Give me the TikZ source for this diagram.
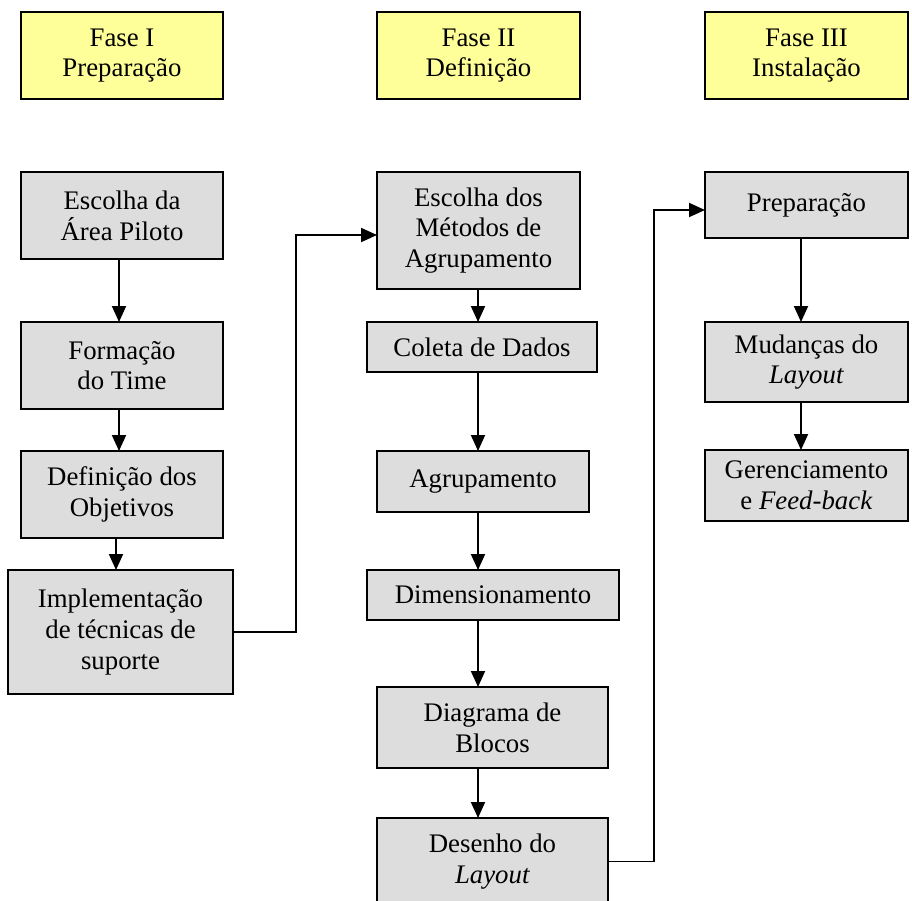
\documentclass[tikz,border=0pt]{standalone}
\usepackage{fontspec}
\setmainfont{Liberation Serif}
\usetikzlibrary{arrows.meta,calc}
\definecolor{phaseyellow}{HTML}{FFFF99}
\definecolor{stepgray}{HTML}{DDDDDD}
\begin{document}
\begin{tikzpicture}[x=1pt,y=-1pt,
  basebox/.style={draw=black, line width=2pt, inner sep=0pt, outer sep=0pt,
    align=center, font=\fontsize{26.8}{30.7}\selectfont},
  phasebox/.style={basebox, fill=phaseyellow},
  stepbox/.style={basebox, fill=stepgray},
  arr/.style={line width=1.9pt, -{Triangle[length=16pt,width=14pt]}}]
\useasboundingbox (0,0) rectangle (912,900);

% phase headers
\node[phasebox, minimum width=202pt, minimum height=87pt] (f1) at (122,55.5) {Fase I\\Preparação};
\node[phasebox, minimum width=203pt, minimum height=87pt] (f2) at (478.5,55.5) {Fase II\\Definição};
\node[phasebox, minimum width=203pt, minimum height=87pt] (f3) at (806.5,55.5) {Fase III\\Instalação};

% phase I steps
\node[stepbox, minimum width=202pt, minimum height=87pt] (a1) at (122,215.5) {Escolha da\\Área Piloto};
\node[stepbox, minimum width=202pt, minimum height=87pt] (a2) at (122,365.5) {Formação\\do Time};
\node[stepbox, minimum width=202pt, minimum height=87pt] (a3) at (122,494.5) {Definição dos\\Objetivos};
\node[stepbox, minimum width=225pt, minimum height=124pt] (a4) at (120.5,632) {Implementação\\de técnicas de\\suporte};

% phase II steps
\node[stepbox, minimum width=203pt, minimum height=117pt] (b1) at (478.5,230.5) {Escolha dos\\Métodos de\\Agrupamento};
\node[stepbox, minimum width=230pt, minimum height=50pt] (b2) at (482,347) {Coleta de Dados};
\node[stepbox, minimum width=212pt, minimum height=61pt] (b3) at (483,481.5) {Agrupamento};
\node[stepbox, minimum width=252pt, minimum height=50pt] (b4) at (493,595) {Dimensionamento};
\node[stepbox, minimum width=231pt, minimum height=81pt] (b5) at (492.5,727.5) {Diagrama de\\Blocos};
\node[stepbox, minimum width=231pt, minimum height=87pt] (b6) at (492.5,861.5) {Desenho do\\\textit{Layout}};

% phase III steps
\node[stepbox, minimum width=203pt, minimum height=66pt] (c1) at (806.5,205) {Preparação};
\node[stepbox, minimum width=203pt, minimum height=80pt] (c2) at (806.5,362) {Mudanças do\\\textit{Layout}};
\node[stepbox, minimum width=203pt, minimum height=71pt] (c3) at (806.5,485.5) {Gerenciamento\\e \textit{Feed-back}};

% vertical guides for the connectors
\coordinate (xa) at (119,0);
\coordinate (xa2) at (116,0);
\coordinate (xb) at (478,0);
\coordinate (xc) at (801,0);
\coordinate (j1) at (296,0);
\coordinate (j2) at (654,0);
\coordinate (b1in) at ([yshift=-4.5pt]b1.west);
\coordinate (c1in) at ([yshift=-5pt]c1.west);

% phase I flow
\draw[arr] (a1.south -| xa) -- (a2.north -| xa);
\draw[arr] (a2.south -| xa) -- (a3.north -| xa);
\draw[arr] (a3.south -| xa2) -- (a4.north -| xa2);

% phase II flow
\draw[arr] (b1.south -| xb) -- (b2.north -| xb);
\draw[arr] (b2.south -| xb) -- (b3.north -| xb);
\draw[arr] (b3.south -| xb) -- (b4.north -| xb);
\draw[arr] (b4.south -| xb) -- (b5.north -| xb);
\draw[arr] (b5.south -| xb) -- (b6.north -| xb);

% phase III flow
\draw[arr] (c1.south -| xc) -- (c2.north -| xc);
\draw[arr] (c2.south -| xc) -- (c3.north -| xc);

% links between phases
\draw[arr] (a4.east) -- (a4.east -| j1) -- (j1 |- b1in) -- (b1in);
\draw[arr] (b6.east) -- (b6.east -| j2) -- (j2 |- c1in) -- (c1in);
\end{tikzpicture}
\end{document}
